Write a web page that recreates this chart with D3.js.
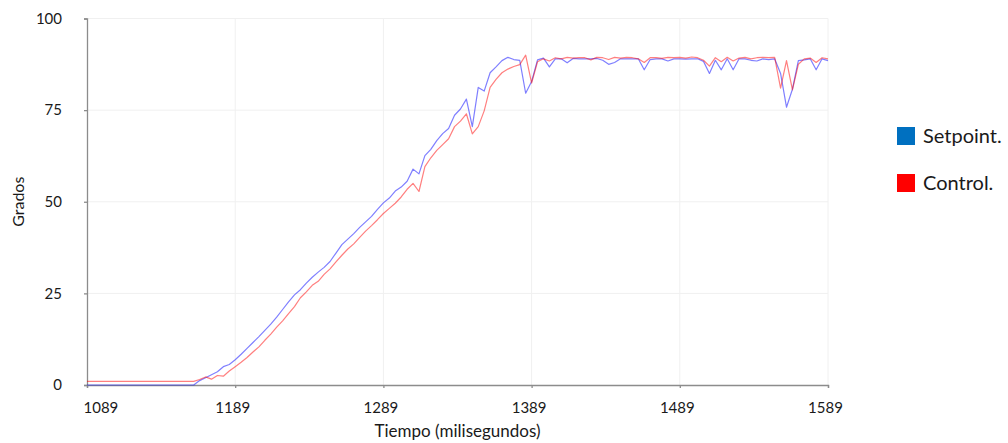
<!DOCTYPE html>
<html>
<head>
<meta charset="utf-8">
<script src="https://cdn.jsdelivr.net/npm/d3@7"></script>
<style>
  body { margin: 0; background: #fff; }
  text { font-family: Lato, "Open Sans", sans-serif; fill: #1a1a1a; }
</style>
</head>
<body>
<div id="chart"></div>
<script>
// --- DATA ---
// muestras cada 4 ms, de 1089 a 1589
const tiempo = d3.range(1089, 1590, 4);
const xTicks = [1089, 1189, 1289, 1389, 1489, 1589];
const yTicks = [0, 25, 50, 75, 100];

const setpoint = [
  0, 0, 0, 0, 0, 0, 0, 0, 0, 0,
  0, 0, 0, 0, 0, 0, 0, 0, 0, 1.2,
  2.0, 2.8, 3.6, 5.0, 5.6, 6.9, 8.4, 10.0, 11.6, 13.2,
  14.9, 16.6, 18.5, 20.6, 22.7, 24.6, 26.0, 27.8, 29.4, 30.8,
  32.1, 33.7, 36.0, 38.3, 39.8, 41.3, 43.0, 44.5, 46.0, 47.9,
  49.7, 51.0, 52.9, 54.0, 55.6, 58.9, 57.6, 62.6, 64.3, 66.7,
  68.6, 70.0, 73.6, 75.3, 78.0, 70.5, 81.2, 80.2, 85.2, 86.8,
  88.5, 89.4, 88.8, 88.6, 79.6, 82.8, 88.7, 89.2, 86.8, 89.0,
  89.0, 87.9, 89.1, 89.0, 89.0, 89.0, 89.1, 88.6, 87.5, 88.0,
  89.0, 89.0, 89.0, 89.0, 86.0, 88.8, 89.0, 89.0, 88.4, 89.0,
  89.0, 88.9, 89.0, 89.0, 88.3, 85.0, 88.6, 86.0, 89.0, 86.0,
  89.0, 89.0, 88.6, 88.4, 89.0, 88.8, 89.0, 85.0, 75.8, 80.7,
  88.5, 88.7, 89.0, 86.0, 89.0, 88.5
];

const control = [
  1, 1, 1, 1, 1, 1, 1, 1, 1, 1,
  1, 1, 1, 1, 1, 1, 1, 1, 1, 1.5,
  2.2, 1.6, 2.6, 2.4, 3.8, 5.0, 6.2, 7.5, 9.0, 10.4,
  12.2, 13.9, 15.8, 17.5, 19.5, 21.4, 23.8, 25.4, 27.2, 28.3,
  30.2, 31.7, 33.6, 35.4, 37.1, 38.5, 40.3, 42.0, 43.5, 45.1,
  46.8, 48.2, 49.6, 51.3, 53.4, 55.0, 52.8, 59.6, 62.0, 64.0,
  65.6, 67.2, 70.5, 72.0, 74.0, 68.5, 70.5, 74.8, 81.2, 83.4,
  85.2, 86.2, 86.9, 87.4, 90.0, 82.4, 88.2, 89.0, 88.4, 89.3,
  89.0, 89.4, 89.2, 89.3, 89.3, 88.7, 89.4, 89.3, 88.8, 89.4,
  89.2, 89.4, 89.3, 89.0, 88.0, 89.3, 89.3, 89.1, 89.4, 89.3,
  89.4, 89.2, 89.5, 89.3, 88.6, 87.0, 89.3, 88.2, 89.4, 88.4,
  89.2, 89.4, 89.0, 89.3, 89.4, 89.3, 89.4, 81.0, 88.5, 80.5,
  87.5, 89.0, 89.2, 88.0, 89.3, 89.0
];

const series = [
  { name: "Setpoint.", values: setpoint, line: "#0000ff", swatch: "#0070c0" },
  { name: "Control.", values: control, line: "#ff0000", swatch: "#ff0000" }
];

// 1. SETUP
const width = 1008;
const height = 443;
const margin = { top: 18.5, right: 180, bottom: 58, left: 87 };

const svg = d3.select("#chart")
    .append("svg")
    .attr("width", width)
    .attr("height", height)
    .attr("viewBox", [0, 0, width, height]);

// --- SCALES ---
const x = d3.scaleLinear()
    .domain([1089, 1589])
    .range([margin.left, width - margin.right]);

const y = d3.scaleLinear()
    .domain([0, 100])
    .range([height - margin.bottom, margin.top]);

// --- GRID ---
svg.append("g")
    .attr("stroke", "#f0f0f0")
    .selectAll("line")
    .data(xTicks.slice(1))
    .join("line")
    .attr("x1", d => x(d)).attr("x2", d => x(d))
    .attr("y1", y(100)).attr("y2", y(0));

svg.append("g")
    .attr("stroke", "#f0f0f0")
    .selectAll("line")
    .data(yTicks.slice(1))
    .join("line")
    .attr("x1", x(1089)).attr("x2", x(1589))
    .attr("y1", d => y(d)).attr("y2", d => y(d));

// --- AXES ---
const xAxis = svg.append("g")
    .attr("transform", `translate(0, ${y(0)})`)
    .call(d3.axisBottom(x).tickValues(xTicks).tickFormat(d3.format("d")).tickSize(3).tickPadding(14));
xAxis.selectAll("text")
    .attr("font-size", "15px")
    .attr("font-family", "Lato, sans-serif")
    .attr("fill", "#1a1a1a")
    .attr("dx", "-3");
xAxis.select(".tick text").attr("text-anchor", "start").attr("dx", "-4");

const yAxis = svg.append("g")
    .attr("transform", `translate(${x(1089)}, 0)`)
    .call(d3.axisLeft(y).tickValues(yTicks).tickSize(3).tickPadding(22));
yAxis.selectAll("text")
    .attr("font-size", "15px")
    .attr("font-family", "Lato, sans-serif")
    .attr("fill", "#1a1a1a");

svg.selectAll(".domain, .tick line")
    .attr("stroke", "#8c8c8c")
    .attr("stroke-width", 1.3);

// axis titles
svg.append("text")
    .attr("x", (x(1089) + x(1589)) / 2)
    .attr("y", 437)
    .attr("text-anchor", "middle")
    .attr("font-size", "17px")
    .text("Tiempo (milisegundos)");

svg.append("text")
    .attr("transform", `translate(24, ${y(50)}) rotate(-90)`)
    .attr("text-anchor", "middle")
    .attr("font-size", "16px")
    .text("Grados");

// --- LINES ---
const line = d3.line()
    .x((d, i) => x(tiempo[i]))
    .y(d => y(d));

svg.append("g")
    .selectAll("path")
    .data(series)
    .join("path")
    .attr("d", d => line(d.values))
    .attr("fill", "none")
    .attr("stroke", d => d.line)
    .attr("stroke-opacity", 0.5)
    .attr("stroke-width", 1.2)
    .attr("stroke-linejoin", "round");

// --- LEGEND ---
const legend = svg.append("g")
    .attr("transform", "translate(897, 127)");

const item = legend.selectAll("g")
    .data(series)
    .join("g")
    .attr("transform", (d, i) => `translate(0, ${i * 47})`);

item.append("rect")
    .attr("width", 18)
    .attr("height", 18)
    .attr("fill", d => d.swatch);

item.append("text")
    .attr("x", 26)
    .attr("y", 9)
    .attr("dy", "0.35em")
    .attr("font-size", "20px")
    .text(d => d.name);
</script>
</body>
</html>
